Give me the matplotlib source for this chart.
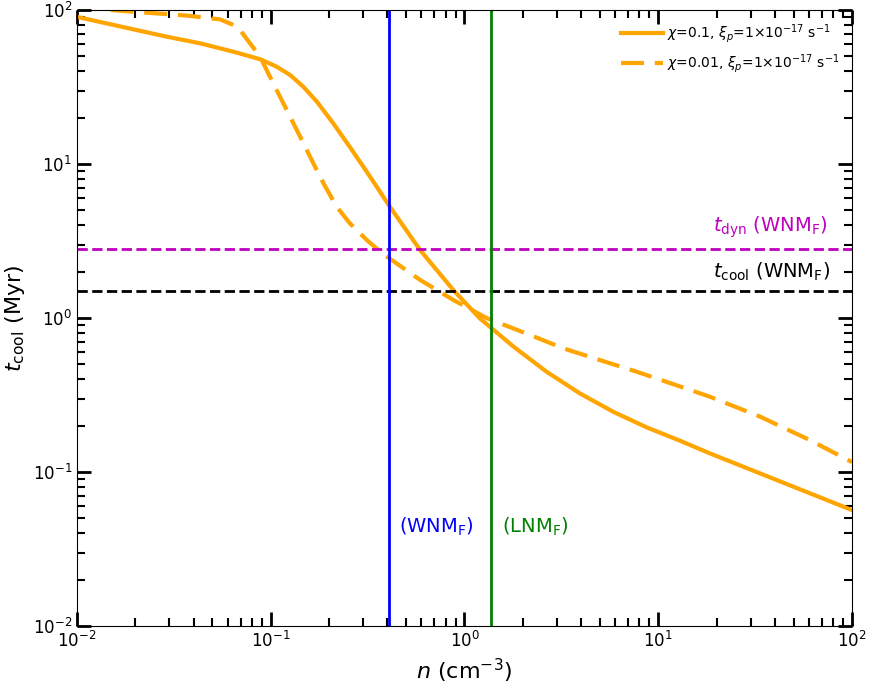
# -- Cooling time vs density

import matplotlib
matplotlib.use("Agg")
import matplotlib.pyplot as plt

# Data
n_chi01 = [0.01, 0.029, 0.0431, 0.0641, 0.0881, 0.107, 0.126, 0.147, 0.173, 0.210,
           0.256, 0.313, 0.381, 0.412, 0.589, 0.875, 1.20, 1.79, 2.65, 3.94,
           5.86, 8.71, 12.9, 18.5, 33.5, 60.7, 100]
t_chi01 = [90.2, 67.1, 60.8, 53.6, 47.9, 42.9, 37.8, 31.8, 25.4, 18.4,
           12.9, 8.91, 6.13, 5.28, 2.77, 1.52, 0.995, 0.652, 0.448, 0.324,
           0.246, 0.195, 0.160, 0.132, 0.098, 0.0727, 0.0566]

n_chi001 = [0.01, 0.0167, 0.0368, 0.0547, 0.0641, 0.0694, 0.0781, 0.0881, 0.103, 0.121,
            0.142, 0.166, 0.187, 0.219, 0.256, 0.313, 0.381, 0.589, 0.875, 1.30,
            2.18, 3.24, 5.00, 7.74, 10.2, 18.5, 33.5, 60.7, 100]
t_chi001 = [105, 98.8, 92.0, 86.9, 80.0, 74.2, 60.8, 49.8, 33.4, 22.4,
            15.0, 10.1, 7.50, 5.28, 4.12, 3.21, 2.60, 1.77, 1.31, 1.0,
            0.776, 0.635, 0.533, 0.448, 0.398, 0.308, 0.229, 0.161, 0.116]

n_wnm = 0.407
n_lnm = 1.37
tdyn_wnm = 2.8
tcool_wnm = 1.5

fig = plt.figure(figsize=(8.69, 6.88), dpi=100)
ax = fig.add_axes([0.0886, 0.0901, 0.8918, 0.8954])

ax.loglog(n_chi01, t_chi01, color="orange", lw=3,
          label=r"$\chi$=0.1, $\xi_p$=1$\times$10$^{-17}$ s$^{-1}$")
ax.loglog(n_chi001, t_chi001, color="orange", lw=3, dashes=(5.5, 2.6),
          label=r"$\chi$=0.01, $\xi_p$=1$\times$10$^{-17}$ s$^{-1}$")

ax.axhline(tdyn_wnm, color="m", ls="--", lw=2)
ax.axhline(tcool_wnm, color="k", ls="--", lw=2)
ax.axvline(n_wnm, color="blue", lw=2)
ax.axvline(n_lnm, color="green", lw=2)

ax.text(19.2, 3.9, r"$t_{\rm dyn}$ (WNM$_{\rm F}$)", color="m", fontsize=14, va="center")
ax.text(19.2, 1.99, r"$t_{\rm cool}$ (WNM$_{\rm F}$)", color="k", fontsize=14, va="center")
ax.text(0.46, 0.044, r"(WNM$_{\rm F}$)", color="blue", fontsize=14, va="center")
ax.text(1.56, 0.044, r"(LNM$_{\rm F}$)", color="green", fontsize=14, va="center")

ax.set_xlim(0.01, 100)
ax.set_ylim(0.01, 100)
ax.set_xlabel(r"$n$ (cm$^{-3}$)", fontsize=16)
ax.set_ylabel(r"$t_{\rm cool}$ (Myr)", fontsize=16)

ax.tick_params(which="both", direction="in", top=True, right=True, labelsize=12)
ax.tick_params(which="major", length=10, width=2)
ax.tick_params(which="minor", length=6, width=1.5)

ax.legend(loc="upper right", frameon=False, fontsize=10, handlelength=3.0,
          handletextpad=0.3)

plt.savefig("out.png", dpi=100)
